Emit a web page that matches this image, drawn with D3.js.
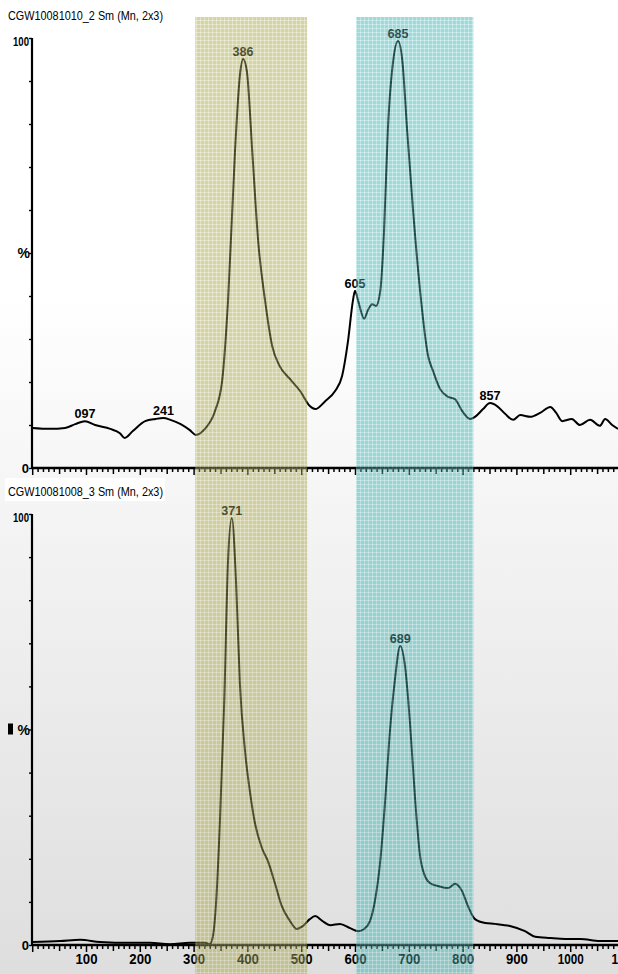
<!DOCTYPE html>
<html><head><meta charset="utf-8">
<script src="https://cdn.jsdelivr.net/npm/d3@7"></script>
<style>body{margin:0;background:#fff;} svg{display:block}</style>
</head><body>
<script>
// ---------- data ----------
const titles = ["CGW10081010_2 Sm (Mn, 2x3)", "CGW10081008_3 Sm (Mn, 2x3)"];

const topX = [0,33,61,80,98,117,145,163,172,187,210,229,244,257,276,293,304,321,340,353,364,377,386,392,399,409,420,433,446,460,479,498,516,526,545,563,576,587,596,600,606,617,624,632,639,647,654,661,671,680,688,697,708,721,736,745,758,771,786,799,814,823,838,851,864,879,894,907,926,944,963,974,985,1003,1018,1037,1055,1065,1078,1089];
const topY = [9.3,9.1,9.3,10.2,10.9,10.0,9.1,8.1,7.0,8.6,10.9,11.4,11.6,11.2,10.2,8.8,7.7,9.1,13.3,20.2,38.8,73.7,91.2,95.1,92.3,73.7,52.8,38.8,28.4,23.7,20.7,17.9,14.4,13.7,15.6,17.9,21.4,29.5,38.8,41.2,38.8,34.7,36.7,38.1,37.7,41.2,55.1,78.4,94.7,99.3,94.7,78.4,59.8,41.2,26.0,22.6,18.4,16.7,16.0,13.3,11.4,11.9,13.7,15.1,14.4,12.6,11.2,12.3,11.9,12.8,14.2,12.8,10.9,11.4,10.0,11.2,9.8,11.4,10.0,9.1];

const botX = [0,52,89,126,182,219,256,293,321,330,336,342,349,357,364,371,379,386,396,405,414,427,438,451,464,479,492,503,516,526,539,554,572,591,606,617,628,637,647,656,665,674,684,693,702,712,721,730,739,754,773,786,799,810,823,842,860,888,916,935,963,991,1019,1055,1089];
const botY = [0.7,0.9,1.2,0.7,0.5,0.5,0.2,0.5,0.5,0.2,2.1,10.2,28.8,56.6,89.1,99.1,84.0,60.8,44.5,35.3,28.3,22.5,19.5,14.4,9.0,5.6,3.7,4.4,6.0,6.7,5.6,4.6,4.9,3.9,3.2,3.7,5.6,10.2,19.5,33.4,49.7,61.3,69.4,64.7,51.9,33.4,20.6,16.0,14.4,13.7,13.2,14.2,12.5,9.0,6.0,5.1,4.9,4.4,3.2,1.9,1.6,1.4,1.4,0.9,0.9];

const topPeakX = [98,244,392,600,680,851];
const topPeakLabels = ["097","241","386","605","685","857"];
const botPeakX = [371,684];
const botPeakLabels = ["371","689"];

const xTickLabels = ["100","200","300","400","500","600","700","800","900","1000","1100"];
const bandStart = [303, 602];
const bandEnd = [511, 820];
const bandColors = ["#9f9f37", "#2cadad"];

// ---------- layout ----------
const W = 618, H = 974;
const svg = d3.select("body").append("svg").attr("width", W).attr("height", H);
const defs = svg.append("defs");
const grad = defs.append("linearGradient").attr("id","bg").attr("x1",0).attr("y1",0).attr("x2",0).attr("y2",1);
grad.append("stop").attr("offset","0").attr("stop-color","#ffffff");
grad.append("stop").attr("offset","0.3").attr("stop-color","#ffffff");
grad.append("stop").attr("offset","1").attr("stop-color","#dedede");
svg.append("rect").attr("width",W).attr("height",H).attr("fill","url(#bg)");

bandColors.forEach((c,i)=>{
  const p = defs.append("pattern").attr("id","pat"+i).attr("patternUnits","userSpaceOnUse")
    .attr("width",4).attr("height",4);
  p.append("rect").attr("width",4).attr("height",4).attr("fill",c);
  p.append("path").attr("d","M0,0.5H4M0.5,0V4").attr("stroke","#fff").attr("stroke-width",1).attr("stroke-opacity",0.35);
});

const x = d3.scaleLinear().domain([0,1100]).range([32.2, 32.2 + 0.538*1100]);
const panels = [
  {y: d3.scaleLinear().domain([0,100]).range([468,38]), xs: topX, ys: topY, px: topPeakX, pl: topPeakLabels, title: titles[0], ty: 20, labels: false, sq: false},
  {y: d3.scaleLinear().domain([0,100]).range([945,514]), xs: botX, ys: botY, px: botPeakX, pl: botPeakLabels, title: titles[1], ty: 496, labels: true, sq: true}
];

const fontN = "'Liberation Sans Narrow','Liberation Sans',Arial,sans-serif";

panels.forEach((P, pi) => {
  const g = svg.append("g");
  // title
  if (pi === 1) g.append("rect").attr("x",5).attr("y",478).attr("width",160).attr("height",23).attr("fill","#fff");
  g.append("text").attr("x",8).attr("y",P.ty).text(P.title)
    .attr("font-family",fontN).attr("font-size",13).attr("textLength",155).attr("lengthAdjust","spacingAndGlyphs")
    .attr("fill","#000");

  // y axis
  const ya = g.append("g").attr("transform","translate(32,0)")
    .call(d3.axisLeft(P.y).tickValues(d3.range(0,101,10)).tickSize(3)
      .tickFormat(d => d===0 ? "0" : d===100 ? "100" : ""));
  ya.select(".domain").attr("stroke","#000").attr("stroke-width",2.2).attr("d", `M0,${P.y(100)}V${P.y(0)}`);
  ya.selectAll(".tick line").attr("stroke","#000").attr("stroke-width",1.4);
  ya.selectAll(".tick text").attr("font-family",fontN).attr("font-weight","bold").attr("font-size",13)
    .attr("fill","#000").attr("x",-3).attr("dy","0.35em")
    .each(function(d){ if(d===100){ d3.select(this).attr("textLength",16).attr("lengthAdjust","spacingAndGlyphs").attr("dy","0.6em"); } });
  g.append("text").attr("x",30).attr("y",P.y(50)+5).attr("text-anchor","end").text("%")
    .attr("font-family",fontN).attr("font-weight","bold").attr("font-size",14).attr("fill","#000");
  if (P.sq) g.append("rect").attr("x",8).attr("y",P.y(50)-6).attr("width",5).attr("height",11).attr("fill","#000");

  // x axis
  const xa = g.append("g").attr("transform",`translate(0,${P.y(0)})`)
    .call(d3.axisBottom(x).tickValues(d3.range(0,1101,10)).tickSize(4)
      .tickFormat(d => (P.labels && d>0 && d%100===0) ? xTickLabels[d/100-1] : ""));
  xa.select(".domain").attr("stroke","#000").attr("stroke-width",2.4).attr("d", `M32,0H${W}`);
  xa.selectAll(".tick line").attr("stroke","#000").attr("stroke-width",1.5)
    .attr("y2", d => d%100===0 ? 7 : d%50===0 ? 6 : 4);
  xa.selectAll(".tick text").attr("font-family",fontN).attr("font-weight","bold").attr("font-size",14)
    .attr("fill","#000").attr("y",9)
    .each(function(d){ const t=d3.select(this); if(t.text()) t.attr("textLength", t.text().length===4?26:22).attr("lengthAdjust","spacingAndGlyphs"); });

  // curve
  const pts = P.xs.map((v,i)=>[v,P.ys[i]]);
  const line = d3.line().x(d=>x(d[0])).y(d=>P.y(d[1])).curve(d3.curveMonotoneX);
  g.append("path").datum(pts).attr("d",line).attr("fill","none").attr("stroke","#000")
    .attr("stroke-width",2).attr("stroke-linejoin","round");

  // peak labels
  P.px.forEach((v,i)=>{
    const j = d3.minIndex(P.xs, xv => Math.abs(xv - v));
    g.append("text").attr("x",x(P.xs[j])).attr("y",P.y(P.ys[j])-3).attr("text-anchor","middle")
      .text(P.pl[i]).attr("font-family",fontN).attr("font-weight","bold").attr("font-size",13)
      .attr("textLength",21).attr("lengthAdjust","spacingAndGlyphs").attr("fill","#000");
  });
});

// bands on top
const bands = svg.append("g").attr("opacity",0.45);
bandStart.forEach((s,i)=>{
  bands.append("rect").attr("x",x(s)).attr("y",17).attr("width",x(bandEnd[i])-x(s)).attr("height",H-17)
    .attr("fill",`url(#pat${i})`);
});
</script>
</body></html>
